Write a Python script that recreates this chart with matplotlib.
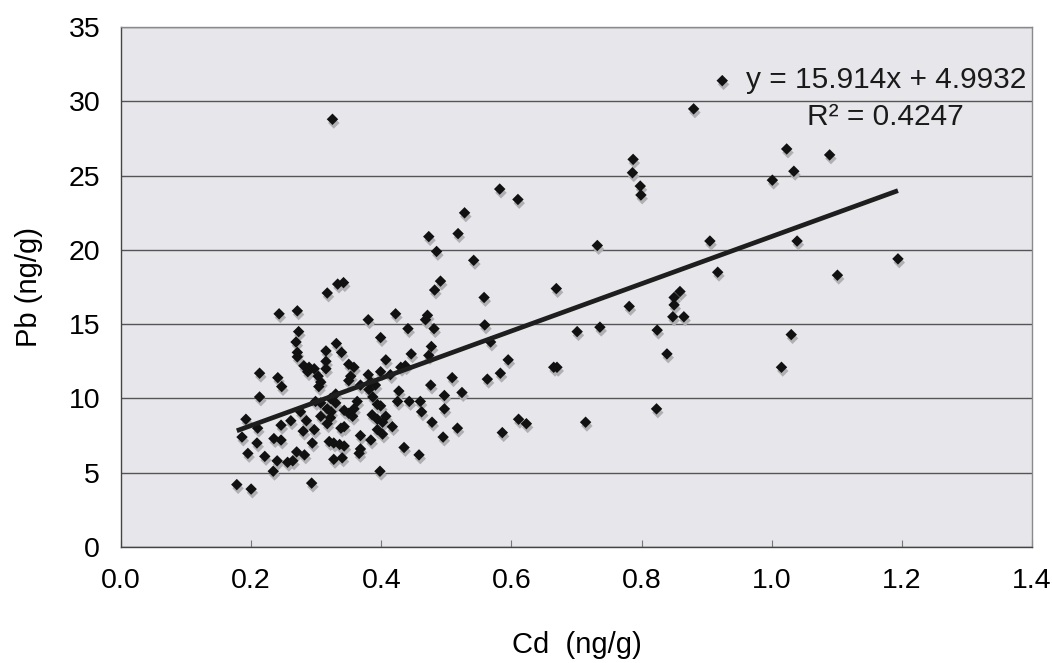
import numpy as np
from matplotlib import pyplot as plt

plt.rcParams['font.family'] = ['Liberation Sans', 'DejaVu Sans']

# Cd (ng/g) vs Pb (ng/g)
cd = [0.178, 0.200, 0.293, 0.234, 0.240, 0.256, 0.264, 0.195, 0.221, 0.270,
      0.282, 0.327, 0.186, 0.209, 0.235, 0.246, 0.294, 0.320, 0.327, 0.280,
      0.297, 0.210, 0.246, 0.192, 0.261, 0.285, 0.276, 0.317, 0.213, 0.299,
      0.330, 0.247, 0.241, 0.213, 0.281, 0.289, 0.297, 0.287, 0.303, 0.307,
      0.304, 0.315, 0.315, 0.315, 0.331, 0.271, 0.271, 0.269, 0.273, 0.271,
      0.243, 0.317, 0.333, 0.342, 0.325, 0.322, 0.323,
      0.485, 0.542, 0.491, 0.482, 0.380, 0.422, 0.468, 0.471, 0.441, 0.481,
      0.399, 0.477, 0.446, 0.473, 0.407, 0.339, 0.350, 0.358, 0.353, 0.350,
      0.380, 0.399, 0.414, 0.430, 0.437, 0.368, 0.384, 0.391, 0.381, 0.387,
      0.509, 0.476, 0.427, 0.497, 0.524, 0.425, 0.443, 0.460, 0.497, 0.462,
      0.478, 0.517, 0.495, 0.435, 0.458, 0.398, 0.307, 0.322, 0.330, 0.343,
      0.350, 0.358, 0.356, 0.363, 0.386, 0.394, 0.402, 0.407, 0.394, 0.399,
      0.417, 0.338, 0.343, 0.343, 0.368, 0.384, 0.394, 0.402, 0.368, 0.366,
      0.340, 0.336, 0.317, 0.307,
      0.582, 0.610, 0.528, 0.518, 0.473, 0.732, 0.669, 0.558, 0.781, 0.559,
      0.701, 0.736, 0.568, 0.595, 0.665, 0.670, 0.563, 0.583, 0.611, 0.623,
      0.714, 0.586,
      0.880, 0.787, 0.786, 0.798, 0.799, 1.023, 1.089, 1.034, 1.001, 0.905,
      1.039, 0.917, 1.101, 0.859, 0.850, 0.850, 0.848, 0.865, 0.824, 1.030,
      0.839, 1.015, 0.823, 1.194, 0.924]
pb = [4.2, 3.9, 4.3, 5.1, 5.8, 5.7, 5.8, 6.3, 6.1, 6.4,
      6.2, 5.9, 7.4, 7.0, 7.3, 7.2, 7.0, 7.1, 7.0, 7.8,
      7.9, 8.0, 8.2, 8.6, 8.5, 8.5, 9.1, 9.3, 10.1, 9.8,
      10.3, 10.8, 11.4, 11.7, 12.2, 12.1, 12.0, 11.8, 11.5, 11.1,
      10.8, 12.0, 12.5, 13.2, 13.7, 12.8, 13.1, 13.8, 14.5, 15.9,
      15.7, 17.1, 17.7, 17.8, 28.8, 8.7, 9.1,
      19.9, 19.3, 17.9, 17.3, 15.3, 15.7, 15.3, 15.6, 14.7, 14.7,
      14.1, 13.5, 13.0, 12.9, 12.6, 13.1, 12.3, 12.1, 11.5, 11.2,
      11.6, 11.8, 11.6, 12.1, 12.2, 10.9, 11.1, 10.9, 10.6, 10.1,
      11.4, 10.9, 10.5, 10.2, 10.4, 9.8, 9.8, 9.8, 9.3, 9.1,
      8.4, 8.0, 7.4, 6.7, 6.2, 5.1, 9.7, 10.0, 9.7, 9.2,
      9.0, 9.3, 8.8, 9.8, 8.9, 8.6, 8.4, 8.8, 9.6, 9.5,
      8.1, 8.0, 8.1, 6.8, 7.5, 7.2, 7.9, 7.6, 6.6, 6.3,
      6.0, 6.9, 8.3, 8.8,
      24.1, 23.4, 22.5, 21.1, 20.9, 20.3, 17.4, 16.8, 16.2, 14.95,
      14.5, 14.8, 13.8, 12.6, 12.1, 12.1, 11.3, 11.7, 8.6, 8.3,
      8.4, 7.7,
      29.5, 26.1, 25.2, 24.3, 23.7, 26.8, 26.4, 25.3, 24.7, 20.6,
      20.6, 18.5, 18.3, 17.2, 16.8, 16.3, 15.5, 15.5, 14.6, 14.3,
      13.0, 12.1, 9.3, 19.4, 31.4]

slope = 15.914
intercept = 4.9932
r2 = 0.4247

cd = np.array(cd)
pb = np.array(pb)

fig = plt.figure(figsize=(10.52, 6.63), dpi=100)
ax = fig.add_axes([0.115, 0.175, 0.866, 0.784])
ax.set_facecolor('#e7e7eb')

ax.set_xlim(0, 1.4)
ax.set_ylim(0, 35)
ax.set_xticks(np.arange(0, 1.41, 0.2))
ax.set_yticks(np.arange(0, 36, 5))
ax.set_xticklabels([f'{v:.1f}' for v in np.arange(0, 1.41, 0.2)])
ax.yaxis.grid(True, color='#555555', linewidth=1.0)
ax.set_axisbelow(True)

for s in ax.spines.values():
    s.set_color('#8a8a8a')
    s.set_linewidth(1.0)
ax.spines['bottom'].set_color('#444444')
ax.spines['left'].set_color('#444444')

ax.tick_params(axis='x', direction='in', length=5, color='#777777',
               labelsize=20.5, pad=15)
ax.tick_params(axis='y', length=0, labelsize=20.5, pad=15)

# faint shadow then markers
ax.scatter(cd + 0.002, pb - 0.25, marker='D', s=34, color='#b0b0b4',
           edgecolors='none', zorder=2)
ax.scatter(cd, pb, marker='D', s=34, color='#111111', edgecolors='none',
           zorder=3)

xl = np.array([cd.min(), cd.max()])
ax.plot(xl, slope * xl + intercept, color='#1e1e1e', linewidth=3.4,
        solid_capstyle='butt', zorder=4)

ax.text(0.994, 0.898, f'y = {slope}x + {intercept}', transform=ax.transAxes,
        ha='right', va='center', fontsize=21.5, color='#1a1a1a')
ax.text(0.839, 0.827, f'R\u00b2 = {r2}', transform=ax.transAxes,
        ha='center', va='center', fontsize=21.5, color='#1a1a1a')

ax.set_xlabel('Cd  (ng/g)', fontsize=21, labelpad=27)
ax.set_ylabel('Pb (ng/g)', fontsize=21, labelpad=18)

fig.savefig('out.png', dpi=100)
